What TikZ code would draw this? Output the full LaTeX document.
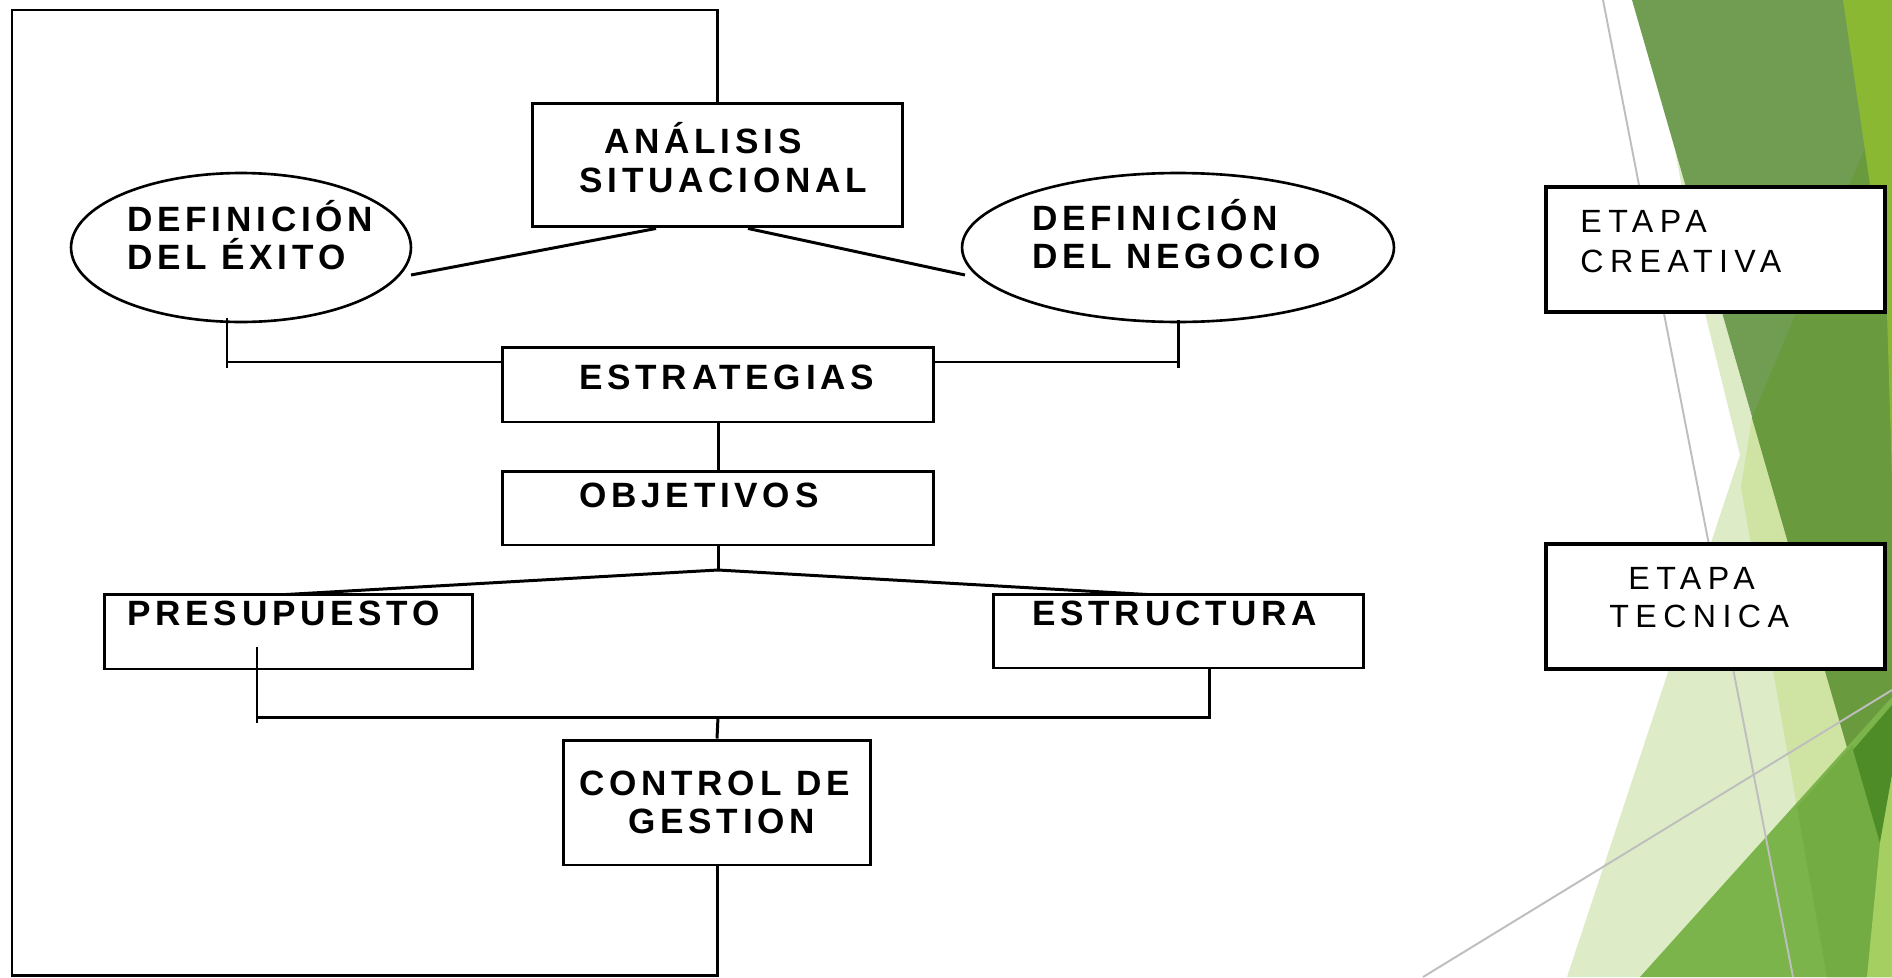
\documentclass[tikz,border=0pt]{standalone}
\usepackage{fontspec}
\setmainfont{Liberation Sans}
\newfontfamily\bsp{Liberation Sans}[LetterSpace=13.5]
\newfontfamily\rsp{Liberation Sans}[LetterSpace=20]
\usetikzlibrary{shapes.geometric,calc}
\definecolor{gpale}{RGB}{221,235,198}
\definecolor{gmid}{RGB}{207,227,162}
\definecolor{gdark}{RGB}{113,157,82}
\definecolor{gdarkb}{RGB}{106,154,62}
\definecolor{gyel}{RGB}{138,184,51}
\definecolor{gbright}{RGB}{122,180,74}
\definecolor{gbrightb}{RGB}{116,172,68}
\definecolor{gdeep}{RGB}{78,140,40}
\definecolor{glight}{RGB}{166,207,98}
\definecolor{gline}{RGB}{190,190,190}
\begin{document}
\begin{tikzpicture}[x=0.02cm,y=-0.02cm,
  ln/.style={line width=1.7pt, black},
  box/.style={draw, line width=1.7pt, fill=white, rectangle, inner sep=0pt},
  ebox/.style={draw, line width=2.2pt, fill=white, rectangle, inner sep=0pt},
  ell/.style={draw, line width=1.5pt, fill=white, ellipse, inner sep=0pt},
  btxt/.style={anchor=base west, inner sep=0pt, font=\bsp\bfseries\fontsize{20}{24}\selectfont},
  rtxt/.style={anchor=base west, inner sep=0pt, font=\rsp\fontsize{18.3}{22}\selectfont},
  grey/.style={draw=gline, line width=1.1pt}]
\useasboundingbox (0,0) rectangle (1892,977);
\fill[white] (0,0) rectangle (1892,977);

% ---- green background shapes ----
\fill[gpale] (1675,150) -- (1705,313) -- (1740,455) -- (1567,977) -- (1892,977) -- (1892,903) -- cycle;
\fill[gmid] (1752,418) -- (1741,487) -- (1773,670) -- (1797,807) -- (1827,977) -- (1892,977) -- (1892,903) -- cycle;
\fill[gdark] (1632,0) -- (1892,0) -- (1892,903) -- cycle;
\fill[gdarkb] (1892,83) -- (1752,418) -- (1892,903) -- cycle;
\fill[gyel] (1843,0) -- (1870,185) -- (1887,313) -- (1892,480) -- (1892,0) -- cycle;
\fill[gbright] (1640,977) -- (1892,697) -- (1892,977) -- cycle;
\fill[gbrightb] (1797,807) -- (1853,745) -- (1880,843) -- (1867,977) -- (1827,977) -- cycle;
\fill[gdeep] (1853,750) -- (1892,705) -- (1892,775) -- (1880,843) -- cycle;
\fill[glight] (1892,775) -- (1880,843) -- (1867,977) -- (1892,977) -- cycle;
\draw[grey] (1603,0) -- (1793,977);
\draw[grey] (1423,977) -- (1892,690);

% ---- nodes ----
\node[box, minimum width=7.42cm, minimum height=2.48cm] (ana) at (717.5,165) {};
\node[ell, minimum width=6.8cm, minimum height=2.98cm] (exi) at (241,247.5) {};
\node[ell, minimum width=8.64cm, minimum height=2.98cm] (neg) at (1178,247.5) {};
\node[box, minimum width=8.64cm, minimum height=1.5cm] (est) at (718,384.5) {};
\node[box, minimum width=8.64cm, minimum height=1.48cm] (obj) at (718,508) {};
\node[box, minimum width=7.38cm, minimum height=1.5cm] (pre) at (288.5,631.5) {};
\node[box, minimum width=7.42cm, minimum height=1.48cm] (estr) at (1178.5,631) {};
\node[box, minimum width=6.16cm, minimum height=2.5cm] (con) at (717,802.5) {};
\node[ebox, minimum width=6.78cm, minimum height=2.5cm] (cre) at (1715.5,249.5) {};
\node[ebox, minimum width=6.78cm, minimum height=2.5cm] (tec) at (1715.5,606.5) {};

% ---- texts ----
\node[btxt] (t1) at (604,153) {ANÁLISIS};
\node[btxt] (t2) at (579,192) {SITUACIONAL};
\node[btxt] (t3) at (127,231) {DEFINICIÓN};
\node[btxt] (t4) at (127,269) {DEL ÉXITO};
\node[btxt] (t5) at (1032,230) {DEFINICIÓN};
\node[btxt] (t6) at (1032,268) {DEL NEGOCIO};
\node[btxt] (t7) at (579,389) {ESTRATEGIAS};
\node[btxt] (t8) at (579,507) {OBJETIVOS};
\node[btxt] (t9) at (127,625) {PRESUPUESTO};
\node[btxt] (t10) at (1032,625) {ESTRUCTURA};
\node[btxt] (t11) at (579,795) {CONTROL DE};
\node[btxt] (t12) at (628,833) {GESTION};
\node[rtxt] (t13) at (1580,232) {ETAPA};
\node[rtxt] (t14) at (1580,272) {CREATIVA};
\node[rtxt] (t15) at (1628,589) {ETAPA};
\node[rtxt] (t16) at (1609,627) {TECNICA};

% ---- connectors ----
\coordinate (tl) at (12,10);
\coordinate (bl) at (12,975);
\draw[ln] (ana.north) |- (tl) -- (bl) -| (con.south);
\coordinate (exe) at (411,275);
\coordinate (nge) at (965,275);
\draw[ln] ($(ana.south)+(-61.5,0)$) -- (exe);
\draw[ln] ($(ana.south)+(30.5,0)$) -- (nge);
% bracket under ellipses
\coordinate (ebl) at (227,318);
\coordinate (ebr) at (1178,320);
\draw[ln] (ebl) -- ++(0,50);
\draw[ln] (ebr) -- ++(0,48);
\draw[ln] (ebl |- 0,362) -- (est.west |- 0,362);
\draw[ln] (est.east |- 0,362) -- (ebr |- 0,362);
\draw[ln] (est.south) -- (obj.north);
\coordinate (jn) at (718,570);
\draw[ln] (obj.south) -- (jn);
\draw[ln] (jn) -- (286,594.5);
\draw[ln] (jn) -- (1147,594.5);
% bracket under presupuesto / estructura
\coordinate (pb) at (257,647);
\coordinate (sb) at (1209,668);
\coordinate (hb) at (718,717);
\draw[ln] (pb) -- ++(0,76);
\draw[ln] (pb |- hb) -- (sb |- hb) -- (sb);
\draw[ln] (hb) -- (con.north);
\end{tikzpicture}
\end{document}
